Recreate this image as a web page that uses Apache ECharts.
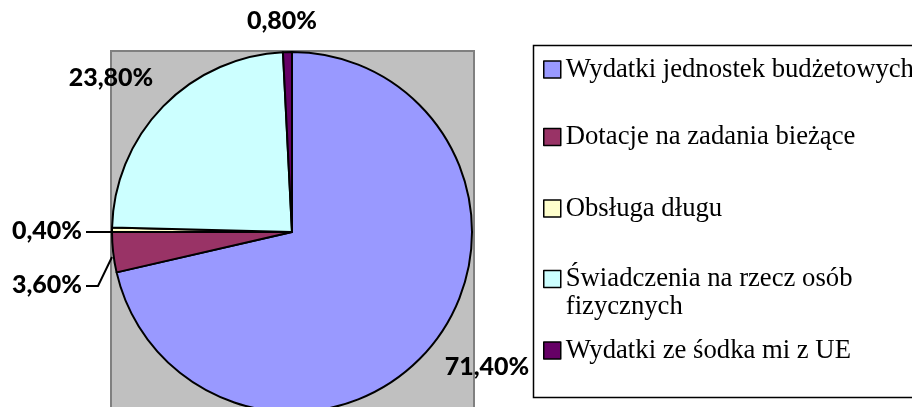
<!DOCTYPE html>
<html>
<head>
<meta charset="utf-8">
<script src="https://cdn.jsdelivr.net/npm/echarts@6/dist/echarts.min.js"></script>
<style>html,body{margin:0;padding:0;background:#fff;}#c{width:912px;height:407px;}</style>
</head>
<body>
<div id="c"></div>
<script>
// Data
const categories = [
  'Wydatki jednostek budżetowych',
  'Dotacje na zadania bieżące',
  'Obsługa długu',
  'Świadczenia na rzecz osób fizycznych',
  'Wydatki ze śodka mi z UE'
];
const values = [71.4, 3.6, 0.4, 23.8, 0.8];
const legendLabels = [
  'Wydatki jednostek budżetowych',
  'Dotacje na zadania bieżące',
  'Obsługa długu',
  ' \nŚwiadczenia na rzecz osób\nfizycznych',
  'Wydatki ze śodka mi z UE'
];

// Styles
const colors = ['#9999FF', '#993366', '#FFFFCC', '#CCFFFF', '#660066'];
const labelPos = [
  {x: 487, y: 367},
  {x: 47, y: 285, line: [[112, 257], [98, 286], [86, 286]]},
  {x: 47, y: 231, line: [[113, 232], [100, 232], [86, 232]]},
  {x: 111, y: 78},
  {x: 282, y: 21}
];
const legendCenters = [69.5, 137, 208.5, 279, 350.5];
const LH = 28;

const chart = echarts.init(document.getElementById('c'), null, {renderer: 'canvas'});

const legends = categories.map((name, i) => {
  const lines = legendLabels[i].split('\n').length;
  return {
    orient: 'vertical',
    left: 543,
    top: legendCenters[i] - (lines * LH) / 2,
    padding: 0,
    itemWidth: 17,
    itemHeight: 17,
    icon: 'rect',
    selectedMode: false,
    data: [name],
    formatter: () => legendLabels[i],
    itemStyle: {borderColor: '#000', borderWidth: 1.5},
    textStyle: {
      fontFamily: 'Liberation Serif',
      fontSize: 26.7,
      lineHeight: LH,
      color: '#000'
    }
  };
});

chart.setOption({
  animation: false,
  backgroundColor: '#fff',
  color: colors,
  graphic: [
    {
      type: 'rect', z: -10, silent: true,
      shape: {x: 111, y: 51, width: 363, height: 370},
      style: {fill: '#C0C0C0', stroke: '#808080', lineWidth: 2}
    },
    {
      type: 'rect', z: -10, silent: true,
      shape: {x: 533.5, y: 45.5, width: 400, height: 352},
      style: {fill: '#fff', stroke: '#000', lineWidth: 1.5}
    }
  ],
  legend: legends,
  series: [{
    type: 'pie',
    center: [292, 232],
    radius: 180,
    startAngle: 90,
    clockwise: true,
    avoidLabelOverlap: false,
    itemStyle: {borderColor: '#000', borderWidth: 2},
    label: {
      show: true,
      position: 'outside',
      formatter: p => p.value.toFixed(2).replace('.', ',') + '%',
      fontFamily: 'Lato',
      fontWeight: 900,
      fontSize: 25,
      color: '#000'
    },
    labelLine: {show: false, lineStyle: {color: '#000', width: 2}},
    labelLayout: function (params) {
      const p = labelPos[params.dataIndex];
      const o = {x: p.x, y: p.y, align: 'center', verticalAlign: 'middle'};
      if (p.line) o.labelLinePoints = p.line;
      return o;
    },
    emphasis: {disabled: true},
    data: categories.map((name, i) => ({
      name: name,
      value: values[i],
      labelLine: {show: !!labelPos[i].line, smooth: false}
    }))
  }]
});
</script>
</body>
</html>
